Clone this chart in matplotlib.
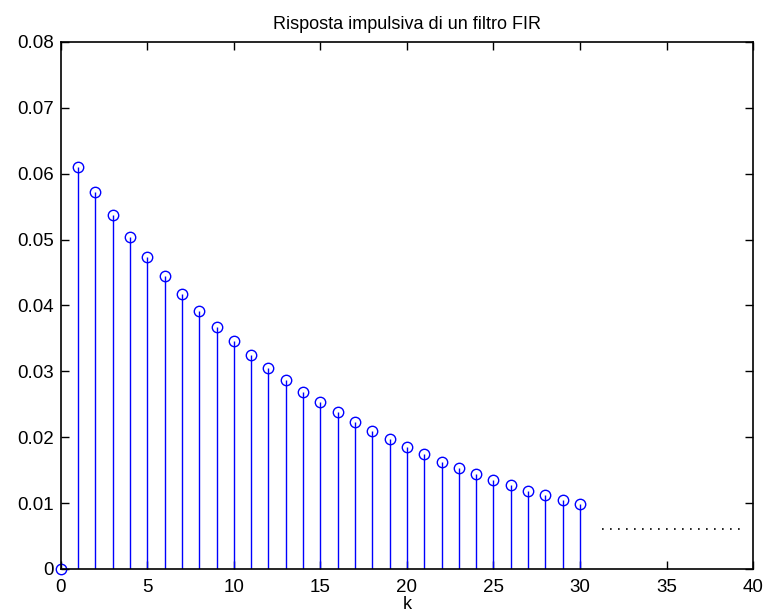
import numpy as np
import matplotlib
matplotlib.use("Agg")
import matplotlib.pyplot as plt

plt.rcParams['font.family'] = ['Liberation Sans', 'DejaVu Sans']

# Impulse response values
k = np.arange(0, 31)
h = [0.0, 0.0610, 0.0572, 0.0537, 0.0504, 0.0474, 0.0445, 0.0418, 0.0392,
     0.0368, 0.0346, 0.0325, 0.0305, 0.0287, 0.0269, 0.0253, 0.0238, 0.0223,
     0.0210, 0.0197, 0.0185, 0.0174, 0.0163, 0.0153, 0.0144, 0.0135, 0.0127,
     0.0119, 0.0112, 0.0105, 0.0099]

# dotted "continues" mark
dots_x = [31.3, 39.4]
dots_y = [0.006, 0.006]

fig = plt.figure(figsize=(7.7, 6.15), dpi=100)
ax = fig.add_axes([0.079, 0.0748, 0.899, 0.857])

markers, stems, base = ax.stem(k, h, linefmt='b-', markerfmt='bo', basefmt=' ')
plt.setp(stems, linewidth=1.0, color='#0000ff')
plt.setp(markers, markersize=7.5, markerfacecolor='none',
         markeredgecolor='#0000ff', markeredgewidth=1.0, clip_on=False)

ax.plot(dots_x, dots_y, color='black', linestyle=(0, (1, 3.8)), linewidth=1.2)

ax.set_xlim(0, 40)
ax.set_ylim(0, 0.08)
ax.set_xticks(np.arange(0, 41, 5))
ax.set_yticks(np.arange(0, 0.081, 0.01))
ax.set_yticklabels(['0', '0.01', '0.02', '0.03', '0.04', '0.05', '0.06', '0.07', '0.08'])

ax.tick_params(direction='in', top=True, right=True, length=6, width=1,
               labelsize=13.5)
ax.tick_params(axis='x', pad=7)
ax.tick_params(axis='y', pad=5)
for s in ax.spines.values():
    s.set_linewidth(1.2)

ax.set_title('Risposta impulsiva di un filtro FIR', fontsize=13, pad=9)
ax.set_xlabel('k', fontsize=13, labelpad=0)

fig.savefig('out.png', dpi=100)
